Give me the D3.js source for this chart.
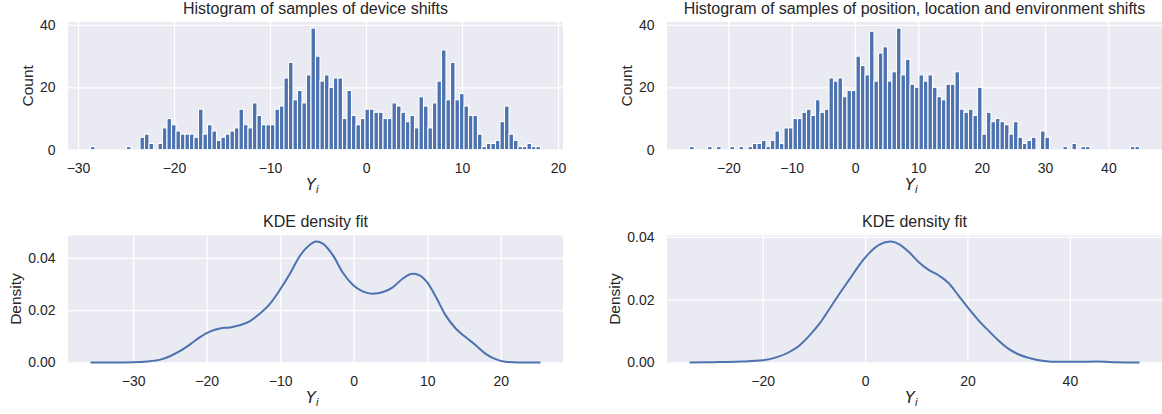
<!DOCTYPE html>
<html>
<head>
<meta charset="utf-8">
<script src="https://cdn.jsdelivr.net/npm/d3@7"></script>
<style>
  body { margin: 0; background: #fff; }
  svg text { font-family: "Liberation Sans", Arial, sans-serif; fill: #262626; }
</style>
</head>
<body>
<svg id="fig" width="1162" height="414"></svg>
<script>
// ---- data ----------------------------------------------------------------
// Device shifts: 100 equal-width bins
const deviceBinStart = -28.70;
const deviceBinWidth = 0.46875;
const deviceCounts = [
  1, 0, 0, 0, 0, 0, 0, 0, 1, 0,
  0, 4, 5, 2, 0, 2, 7, 10, 8, 6,
  5, 5, 5, 4, 13, 5, 8, 6, 3, 4,
  5, 6, 7, 13, 8, 7, 15, 11, 8, 8,
  8, 13, 14, 23, 28, 16, 19, 15, 24, 39,
  30, 22, 24, 20, 23, 23, 10, 19, 11, 8,
  10, 13, 13, 12, 12, 10, 10, 15, 14, 12,
  9, 11, 7, 17, 14, 7, 15, 22, 32, 16,
  28, 16, 18, 14, 11, 11, 5, 1, 2, 2,
  3, 9, 14, 5, 3, 1, 1, 2, 1, 1
];

// Position, location and environment shifts: 100 equal-width bins
const envBinStart = -26.13;
const envBinWidth = 0.7104;
const envCounts = [
  1, 0, 0, 0, 1, 0, 1, 0, 0, 1,
  0, 1, 0, 1, 2, 2, 3, 1, 3, 6,
  2, 7, 7, 10, 10, 12, 13, 11, 16, 12,
  13, 23, 22, 23, 17, 19, 19, 30, 27, 24,
  38, 22, 31, 33, 22, 25, 39, 24, 29, 21,
  20, 24, 22, 24, 20, 17, 16, 21, 21, 25,
  13, 12, 13, 11, 20, 5, 12, 9, 10, 9,
  8, 5, 9, 4, 2, 3, 4, 0, 6, 4,
  0, 0, 0, 1, 0, 2, 0, 1, 1, 0,
  0, 0, 0, 0, 0, 0, 0, 0, 1, 1
];

// KDE curves: [Y_i, density]
const deviceKde = [
  [-35.8, 0.0000], [-32.6, 0.0000], [-30.0, 0.0001], [-28.1, 0.0004],
  [-26.3, 0.0011], [-25.0, 0.0024], [-23.6, 0.0044], [-22.2, 0.0070],
  [-20.9, 0.0097], [-19.5, 0.0119], [-18.2, 0.0130], [-16.8, 0.0134],
  [-15.5, 0.0142], [-14.1, 0.0158], [-12.8, 0.0186], [-11.4, 0.0224],
  [-10.1, 0.0275], [-8.7, 0.0338], [-7.4, 0.0404], [-6.0, 0.0449],
  [-5.1, 0.0462], [-4.2, 0.0454], [-2.8, 0.0408], [-1.5, 0.0344],
  [-0.1, 0.0296], [1.2, 0.0272], [2.6, 0.0263], [3.9, 0.0268],
  [5.3, 0.0287], [6.6, 0.0319], [8.0, 0.0339], [8.9, 0.0334],
  [10.0, 0.0306], [11.2, 0.0249], [12.5, 0.0180], [13.9, 0.0129],
  [15.2, 0.0097], [16.6, 0.0066], [17.9, 0.0034], [19.3, 0.0013],
  [20.6, 0.0003], [22.4, 0.0000], [25.4, 0.0000]
];

const envKde = [
  [-34.3, 0.0000], [-29.4, 0.0001], [-24.3, 0.0003], [-19.9, 0.0007],
  [-17.2, 0.0017], [-14.6, 0.0035], [-12.7, 0.0056], [-10.8, 0.0087],
  [-8.8, 0.0126], [-6.9, 0.0172], [-5.0, 0.0219], [-3.0, 0.0266],
  [-1.1, 0.0311], [0.8, 0.0348], [2.8, 0.0375], [5.0, 0.0385],
  [6.6, 0.0377], [8.6, 0.0351], [10.5, 0.0319], [12.4, 0.0295],
  [14.4, 0.0277], [16.3, 0.0253], [18.2, 0.0214], [20.2, 0.0172],
  [22.1, 0.0135], [24.0, 0.0103], [26.0, 0.0071], [27.9, 0.0045],
  [29.8, 0.0027], [32.4, 0.0013], [35.0, 0.0005], [37.5, 0.0002],
  [41.4, 0.0002], [45.3, 0.0003], [49.1, 0.0001], [53.6, 0.0000]
];

// tick values
const deviceHistXTicks = [-30, -20, -10, 0, 10, 20];
const envHistXTicks = [-20, -10, 0, 10, 20, 30, 40];
const deviceKdeXTicks = [-30, -20, -10, 0, 10, 20];
const envKdeXTicks = [-20, 0, 20, 40];
const countTicks = [0, 20, 40];
const densityTicks = [0, 0.02, 0.04];

// ---- styling -------------------------------------------------------------
const BG = "#EAEAF2";
const BLUE = "#4C72B0";
const TICK_FS = 14;
const LABEL_FS = 15.5;
const TITLE_FS = 16;

const svg = d3.select("#fig");

// matplotlib-style autoscale: 5% margin on each side
function padded(lo, hi) {
  const m = (hi - lo) * 0.05;
  return [lo - m, hi + m];
}

function panel(o) {
  const g = svg.append("g");
  const x = d3.scaleLinear().domain(o.xDomain).range([o.x0, o.x1]);
  const y = d3.scaleLinear().domain(o.yDomain).range([o.y1, o.y0]);
  const h = o.y1 - o.y0, w = o.x1 - o.x0;

  g.append("rect")
    .attr("x", o.x0).attr("y", o.y0)
    .attr("width", w).attr("height", h)
    .attr("fill", BG);

  // x axis: white grid lines + labels
  const gx = g.append("g")
    .attr("transform", `translate(0,${o.y1})`)
    .call(d3.axisBottom(x).tickValues(o.xTicks).tickSize(-h).tickPadding(13.5)
      .tickFormat(d3.format("d")));
  // y axis
  const gy = g.append("g")
    .attr("transform", `translate(${o.x0},0)`)
    .call(d3.axisLeft(y).tickValues(o.yTicks).tickSize(-w).tickPadding(12.5)
      .tickFormat(o.yFormat));

  [gx, gy].forEach(a => {
    a.attr("font-family", null).attr("font-size", null);
    a.select(".domain").remove();
    a.selectAll(".tick line").attr("stroke", "#fff").attr("stroke-width", 1.25);
    a.selectAll(".tick text").attr("fill", "#262626").style("font-size", TICK_FS + "px");
  });

  const plot = g.append("g");

  // title
  g.append("text")
    .attr("x", (o.x0 + o.x1) / 2).attr("y", o.y0 - 8.5)
    .attr("text-anchor", "middle")
    .style("font-size", TITLE_FS + "px")
    .text(o.title);

  // y label
  g.append("text")
    .attr("transform", `translate(${o.x0 - o.yLabelOffset},${(o.y0 + o.y1) / 2}) rotate(-90)`)
    .attr("text-anchor", "middle")
    .style("font-size", LABEL_FS + "px")
    .text(o.yLabel);

  // x label: Y_i
  const xl = g.append("text")
    .attr("x", (o.x0 + o.x1) / 2 - 3).attr("y", o.y1 + 40)
    .attr("text-anchor", "middle")
    .style("font-family", "'DejaVu Sans', sans-serif")
    .style("font-style", "italic")
    .style("font-size", "16px");
  xl.append("tspan").text("Y");
  xl.append("tspan").attr("dy", 3.5).style("font-size", "11px").text("i");

  return { x, y, plot };
}

// ---- histograms ----------------------------------------------------------
function histogram(o, start, width, counts) {
  const end = start + width * counts.length;
  const p = panel(Object.assign({
    xDomain: padded(start, end),
    yDomain: [0, d3.max(counts) * 1.05],
    yTicks: countTicks,
    yFormat: d3.format("d"),
    yLabel: "Count",
    yLabelOffset: 35.3
  }, o));
  const bins = counts.map((c, i) => ({ lo: start + i * width, hi: start + (i + 1) * width, c }))
    .filter(b => b.c > 0);
  p.plot.selectAll("rect").data(bins).join("rect")
    .attr("x", b => p.x(b.lo))
    .attr("width", b => p.x(b.hi) - p.x(b.lo))
    .attr("y", b => p.y(b.c))
    .attr("height", b => p.y(0) - p.y(b.c))
    .attr("fill", BLUE)
    .attr("stroke", "#fff")
    .attr("stroke-width", 1.1);
}

histogram({
  x0: 68, x1: 563, y0: 22, y1: 149.7,
  xTicks: deviceHistXTicks,
  title: "Histogram of samples of device shifts"
}, deviceBinStart, deviceBinWidth, deviceCounts);

histogram({
  x0: 667, x1: 1162, y0: 22, y1: 149.7,
  xTicks: envHistXTicks,
  title: "Histogram of samples of position, location and environment shifts"
}, envBinStart, envBinWidth, envCounts);

// ---- KDE curves ----------------------------------------------------------
function kde(o, pts) {
  const p = panel(Object.assign({
    xDomain: padded(pts[0][0], pts[pts.length - 1][0]),
    yDomain: [0, d3.max(pts, d => d[1]) * 1.05],
    yTicks: densityTicks,
    yFormat: d3.format(".2f"),
    yLabel: "Density",
    yLabelOffset: 47,
    title: "KDE density fit"
  }, o));
  p.plot.append("path")
    .datum(pts)
    .attr("fill", "none")
    .attr("stroke", BLUE)
    .attr("stroke-width", 2)
    .attr("stroke-linejoin", "round")
    .attr("d", d3.line().x(d => p.x(d[0])).y(d => p.y(d[1])).curve(d3.curveMonotoneX));
}

kde({ x0: 68, x1: 563, y0: 235.5, y1: 362.5, xTicks: deviceKdeXTicks }, deviceKde);
kde({ x0: 667, x1: 1162, y0: 235.5, y1: 362.5, xTicks: envKdeXTicks }, envKde);
</script>
</body>
</html>
